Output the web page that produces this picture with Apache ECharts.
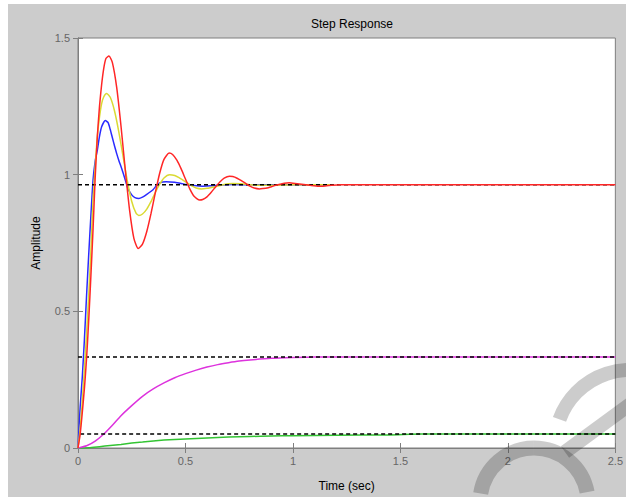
<!DOCTYPE html>
<html>
<head>
<meta charset="utf-8">
<script src="https://cdn.jsdelivr.net/npm/echarts@6/dist/echarts.min.js"></script>
<style>
    html, body { margin: 0; padding: 0; background: #fff; }
    #main { width: 626px; height: 497px; }
</style>
</head>
<body>
<div id="main"></div>
<script>
// time (sec) / amplitude readings for each response
var tBlue = [0, 0.01, 0.02, 0.03, 0.04, 0.05, 0.06, 0.07, 0.08, 0.09, 0.10, 0.11, 0.127, 0.14, 0.15, 0.16, 0.17, 0.18, 0.19, 0.20, 0.21, 0.22, 0.233, 0.25, 0.265, 0.283, 0.30, 0.32, 0.349, 0.365, 0.38, 0.41, 0.45, 0.48, 0.504, 0.54, 0.58, 0.62, 0.66, 0.72, 0.8, 1.18];
var vBlue = [0, 0.15, 0.26, 0.40, 0.56, 0.71, 0.85, 0.98, 1.05, 1.09, 1.14, 1.175, 1.198, 1.19, 1.165, 1.135, 1.105, 1.077, 1.052, 1.03, 1.006, 0.98, 0.948, 0.926, 0.916, 0.913, 0.918, 0.928, 0.945, 0.960, 0.970, 0.974, 0.972, 0.968, 0.964, 0.960, 0.958, 0.959, 0.962, 0.964, 0.963, 0.963];

var tYellow = [0, 0.01, 0.02, 0.03, 0.04, 0.05, 0.06, 0.07, 0.08, 0.09, 0.10, 0.11, 0.12, 0.133, 0.15, 0.17, 0.19, 0.21, 0.23, 0.25, 0.27, 0.283, 0.30, 0.32, 0.34, 0.36, 0.38, 0.40, 0.426, 0.45, 0.47, 0.49, 0.51, 0.53, 0.55, 0.574, 0.60, 0.62, 0.64, 0.66, 0.68, 0.70, 0.72, 0.76, 0.80, 0.84, 0.90, 1.0, 1.18];
var vYellow = [0, 0.07, 0.17, 0.29, 0.42, 0.56, 0.72, 0.91, 1.03, 1.14, 1.21, 1.26, 1.285, 1.297, 1.283, 1.233, 1.156, 1.065, 0.975, 0.902, 0.859, 0.851, 0.856, 0.874, 0.902, 0.935, 0.965, 0.988, 1.000, 0.997, 0.989, 0.979, 0.969, 0.959, 0.951, 0.948, 0.950, 0.953, 0.956, 0.960, 0.964, 0.967, 0.968, 0.967, 0.963, 0.961, 0.961, 0.963, 0.963];

var tRed = [0, 0.01, 0.02, 0.03, 0.04, 0.05, 0.06, 0.07, 0.08, 0.09, 0.10, 0.11, 0.12, 0.13, 0.144, 0.16, 0.18, 0.20, 0.22, 0.24, 0.26, 0.28, 0.30, 0.32, 0.34, 0.36, 0.38, 0.40, 0.424, 0.44, 0.46, 0.48, 0.50, 0.52, 0.54, 0.566, 0.58, 0.60, 0.62, 0.64, 0.66, 0.68, 0.705, 0.72, 0.74, 0.76, 0.78, 0.80, 0.82, 0.844, 0.86, 0.88, 0.90, 0.92, 0.94, 0.96, 0.983, 1.0, 1.04, 1.08, 1.12, 1.14, 1.18, 1.22, 2.5];
var vRed = [0, 0.05, 0.13, 0.22, 0.33, 0.47, 0.63, 0.80, 0.99, 1.14, 1.25, 1.33, 1.39, 1.425, 1.434, 1.410, 1.319, 1.178, 1.017, 0.870, 0.767, 0.730, 0.746, 0.792, 0.859, 0.935, 1.005, 1.056, 1.079, 1.074, 1.053, 1.021, 0.984, 0.948, 0.921, 0.907, 0.909, 0.919, 0.936, 0.955, 0.973, 0.987, 0.994, 0.993, 0.987, 0.978, 0.968, 0.958, 0.951, 0.948, 0.949, 0.951, 0.956, 0.961, 0.965, 0.969, 0.970, 0.969, 0.965, 0.961, 0.958, 0.958, 0.961, 0.963, 0.963];

var tMagenta = [0, 0.04, 0.08, 0.12, 0.16, 0.2, 0.25, 0.3, 0.35, 0.4, 0.45, 0.5, 0.55, 0.6, 0.65, 0.7, 0.75, 0.8, 0.9, 1.0, 1.1, 1.2, 2.5];
var vMagenta = [0, 0.008, 0.025, 0.051, 0.083, 0.118, 0.155, 0.189, 0.216, 0.238, 0.257, 0.272, 0.285, 0.296, 0.305, 0.312, 0.318, 0.322, 0.328, 0.331, 0.333, 0.333, 0.333];

var tGreen = [0, 0.05, 0.1, 0.15, 0.2, 0.25, 0.3, 0.35, 0.4, 0.45, 0.5, 0.6, 0.7, 0.8, 0.9, 1.0, 1.2, 1.45, 1.6, 2.5];
var vGreen = [0, 0.001, 0.005, 0.009, 0.013, 0.018, 0.022, 0.026, 0.029, 0.031, 0.033, 0.037, 0.040, 0.042, 0.044, 0.045, 0.047, 0.048, 0.051, 0.051];

// steady-state markers
var ssValues = [0.963, 0.333, 0.051];
var ssStart = [0, 0, 0.01];
var tEnd = 2.5;

var xTicks = [0, 0.5, 1, 1.5, 2, 2.5];
var yTicks = [0, 0.5, 1, 1.5];

function pairs(t, v) {
    return t.map(function (x, i) { return [x, v[i]]; });
}

function curve(name, t, v, color) {
    return {
        name: name,
        type: 'line',
        data: pairs(t, v),
        symbol: 'none',
        smooth: 0.2,
        lineStyle: {color: color, width: 1.5},
        silent: true
    };
}

function ssLine(i) {
    return {
        type: 'line',
        data: [[ssStart[i], ssValues[i]], [tEnd, ssValues[i]]],
        symbol: 'none',
        lineStyle: {color: '#000', width: 1.5, type: [4, 3]},
        silent: true
    };
}

var axisGray = '#7f7f7f';
var font = 'Liberation Sans, Arial, sans-serif';
var mark = 'rgba(0,0,0,0.2)';

function markArc(cx, cy, r, a0, a1, w) {
    return {type: 'arc', z: 100, silent: true,
        shape: {cx: cx, cy: cy, r: r, startAngle: a0, endAngle: a1, clockwise: true},
        style: {stroke: mark, lineWidth: w, fill: null}};
}

var myChart = echarts.init(document.getElementById('main'), null, {renderer: 'svg'});
var option = {
    animation: false,
    backgroundColor: '#fff',
    textStyle: {fontFamily: font},
    title: {
        text: 'Step Response',
        left: 347,
        top: 13,
        textAlign: 'center',
        textStyle: {fontSize: 12, fontWeight: 'normal', color: '#000', fontFamily: font}
    },
    graphic: [
        {type: 'rect', z: -10, shape: {x: 8, y: 4, width: 618, height: 493}, style: {fill: '#cccccc'}},
        // faint watermark
        markArc(630, 445, 75, 3.49, 5.3, 14),
        {type: 'line', z: 100, silent: true, shape: {x1: 565, y1: 452, x2: 640, y2: 397},
            style: {stroke: mark, lineWidth: 14}},
        markArc(534, 502, 54, 3.3, 4.71, 15),
        markArc(534, 502, 54, 4.71, 6.1, 15)
    ],
    grid: {
        left: 78,
        top: 38,
        width: 540,
        height: 412,
        show: true,
        backgroundColor: '#fff',
        borderColor: axisGray,
        borderWidth: 1
    },
    xAxis: [
        {
            type: 'value',
            min: xTicks[0],
            max: xTicks[xTicks.length - 1],
            interval: 0.5,
            position: 'bottom',
            name: 'Time (sec)',
            nameLocation: 'middle',
            nameGap: 32,
            nameTextStyle: {color: '#000', fontSize: 12, fontFamily: font},
            axisLine: {show: true, lineStyle: {color: axisGray}},
            axisTick: {show: true, inside: true, length: 5, lineStyle: {color: axisGray}},
            axisLabel: {color: '#666', fontSize: 11, margin: 7, fontFamily: font},
            splitLine: {show: false}
        },
        {
            type: 'value',
            min: xTicks[0],
            max: xTicks[xTicks.length - 1],
            interval: 0.5,
            position: 'top',
            axisLine: {show: true, lineStyle: {color: axisGray}},
            axisTick: {show: true, inside: true, length: 5, lineStyle: {color: axisGray}},
            axisLabel: {show: false},
            splitLine: {show: false}
        }
    ],
    yAxis: [
        {
            type: 'value',
            min: yTicks[0],
            max: yTicks[yTicks.length - 1],
            interval: 0.5,
            position: 'left',
            name: 'Amplitude',
            nameLocation: 'middle',
            nameGap: 36,
            nameTextStyle: {color: '#000', fontSize: 12, fontFamily: font},
            axisLine: {show: true, lineStyle: {color: axisGray}},
            axisTick: {show: true, inside: true, length: 5, lineStyle: {color: axisGray}},
            axisLabel: {color: '#666', fontSize: 11, margin: 8, fontFamily: font},
            splitLine: {show: false}
        },
        {
            type: 'value',
            min: yTicks[0],
            max: yTicks[yTicks.length - 1],
            interval: 0.5,
            position: 'right',
            axisLine: {show: true, lineStyle: {color: axisGray}},
            axisTick: {show: true, inside: true, length: 5, lineStyle: {color: axisGray}},
            axisLabel: {show: false},
            splitLine: {show: false}
        }
    ],
    series: [
        curve('green', tGreen, vGreen, '#33c433'),
        curve('magenta', tMagenta, vMagenta, '#dd33dd'),
        ssLine(1),
        ssLine(2),
        curve('blue', tBlue, vBlue, '#2a2aff'),
        curve('yellow', tYellow, vYellow, '#dada33'),
        ssLine(0),
        curve('red', tRed, vRed, '#ff2626')
    ]
};
myChart.setOption(option);
</script>
</body>
</html>
